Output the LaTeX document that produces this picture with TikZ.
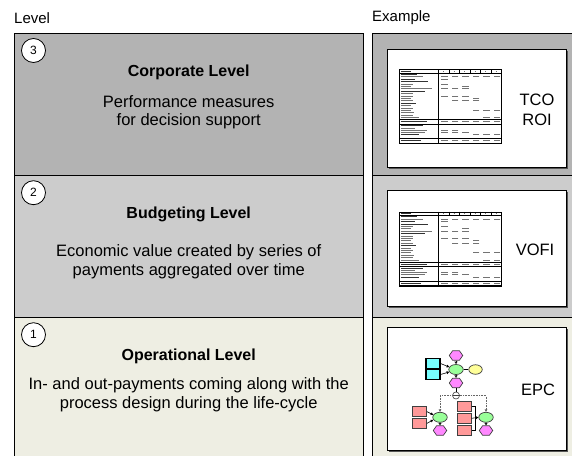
\documentclass[tikz,border=0pt]{standalone}
\usepackage{fontspec}
\setmainfont{Liberation Sans}
\usetikzlibrary{shapes.geometric,shapes.symbols,arrows.meta}
\definecolor{bandA}{HTML}{B3B3B3}
\definecolor{bandB}{HTML}{CCCCCC}
\definecolor{bandC}{HTML}{EEEEE3}
\definecolor{evcol}{HTML}{FF88FF}
\definecolor{fncol}{HTML}{99FF99}
\definecolor{yelcol}{HTML}{FFFF99}
\definecolor{cyacol}{HTML}{77FFFF}
\definecolor{redcol}{HTML}{FF9999}
\definecolor{shadowcol}{HTML}{555555}
\begin{document}
\begin{tikzpicture}[x=1pt,y=-1pt,
  bandline/.style={draw=black,line width=0.9pt},
  hdr/.style={font=\fontsize{15}{18}\selectfont,inner sep=0,anchor=west},
  titletext/.style={font=\bfseries\fontsize{16}{19}\selectfont,inner sep=0},
  desc/.style={font=\fontsize{16.5}{18.5}\selectfont,align=center,inner sep=0},
  extext/.style={font=\fontsize{16.5}{20}\selectfont,align=center,inner sep=0},
  numcirc/.style={circle,draw=black,line width=0.8pt,fill=white,minimum size=24pt,inner sep=0,font=\fontsize{12}{12}\selectfont},
  exbox/.style={draw=black,line width=0.8pt,fill=white},
  tt/.style={line width=0.9pt,color=black!55},
  ttb/.style={line width=1.1pt,color=black!80},
  ev/.style={signal,signal to=east and west,signal pointer angle=110,draw=black!75,fill=evcol,minimum width=13.5pt,minimum height=9.5pt,inner sep=0,line width=0.7pt},
  fn/.style={ellipse,draw=black!75,fill=fncol,minimum width=14.5pt,minimum height=10pt,inner sep=0,line width=0.7pt},
  yel/.style={ellipse,draw=black!75,fill=yelcol,minimum width=13.5pt,minimum height=9.5pt,inner sep=0,line width=0.7pt},
  rbox/.style={rectangle,draw=black!75,fill=redcol,minimum width=14pt,minimum height=10pt,inner sep=0,line width=0.7pt},
  cbox/.style={rectangle,draw=black,fill=cyacol,minimum width=14pt,minimum height=10.5pt,inner sep=0,line width=1.1pt},
  xorc/.style={circle,draw=black!75,fill=white,minimum size=7pt,inner sep=0,line width=0.6pt},
  solidarr/.style={line width=0.6pt,-{Triangle[length=2.6pt,width=2.8pt]}},
  openarr/.style={line width=0.6pt,-{Triangle[open,length=2.6pt,width=3.2pt,fill=white]}},
  dotarr/.style={line width=0.6pt,densely dotted,color=black!60,-{Triangle[length=2.5pt,width=2.6pt]}},
  vofi/.pic={
    \fill[white] (0,0) rectangle (102,74);
    \draw[line width=0.3pt] (0,0) rectangle (102,74);
    \draw[line width=0.8pt] (0,3.6) -- (102,3.6);
    \draw[line width=0.8pt] (39,0) -- (39,74);
    \foreach \yy in {50.5,54.6,69.4,73.6} \draw[line width=0.8pt] (0,\yy) -- (102,\yy);
    \foreach \c in {1,...,5} \draw[line width=0.2pt] ({39+\c*10.5},0) -- ({39+\c*10.5},3.6);
    \draw[ttb] (1.5,1.8) -- ++(10,0);
    \foreach \c in {1,...,6} \draw[tt] ({39+\c*10.5-5.8},1.8) -- ++(1.4,0);
    \foreach \y/\l in {5.2/16,10.0/14,12.4/27,22.0/24,34.0/15,52.5/26,56.6/22,65.4/18,71.5/20}
      \draw[ttb] (1.5,\y) -- ++(\l,0);
    \foreach \y/\l in {7.6/22,14.8/12,17.2/10,19.6/31,24.4/12,26.8/12,29.2/10,31.6/12,36.4/10,38.8/12,41.2/10,43.6/13,46.0/12,48.4/18,58.8/14,61.0/26,63.2/24}
      \draw[tt] (1.5,\y) -- ++(\l,0);
    \foreach \y/\cols in {7.6/{1,2,3,4,5,6},10.0/{1},14.8/{1},17.2/{3},19.6/{1,2,3},26.8/{1,2,3},29.2/{4},31.6/{2,3,4},41.2/{4,5,6},48.4/{5,6},52.5/{1,2,3,4,5,6},61.0/{1,2},63.2/{1,2,3},65.4/{4,5,6},71.5/{1,2,3,4,5,6}}
      \foreach \c in \cols \draw[tt] ({39+\c*10.5-1},\y) -- ++(-6.5,0);
  }]
\path[use as bounding box] (0,0) rectangle (572,455);
\clip (0,0) rectangle (572,455);

% headers
\node[hdr] (hlevel) at (14,18) {Level};
\node[hdr] (hexample) at (372,18) {Example};

% left column bands
\draw[bandline,fill=bandA] (14,33.5) rectangle (363.5,175.7);
\draw[bandline,fill=bandB] (14,175.7) rectangle (363.5,317.7);
\draw[bandline,fill=bandC] (14,317.7) rectangle (363.5,470);
% right column bands
\draw[bandline,fill=bandA] (372.5,33.5) rectangle (590,175.7);
\draw[bandline,fill=bandB] (372.5,175.7) rectangle (590,317.7);
\draw[bandline,fill=bandC] (372.5,317.7) rectangle (590,470);

% level numbers
\node[numcirc] (c3) at (33.5,50.5) {3};
\node[numcirc] (c2) at (33.5,192.7) {2};
\node[numcirc] (c1) at (33.5,334.7) {1};

% level texts
\node[titletext] (t3) at (188.7,72.5) {Corporate Level};
\node[desc] (d3) at (188.7,112) {Performance measures\\for decision support};
\node[titletext] (t2) at (188.7,214.5) {Budgeting Level};
\node[desc] (d2) at (188.7,261.5) {Economic value created by series of\\payments aggregated over time};
\node[titletext] (t1) at (188.7,356) {Operational Level};
\node[desc] (d1) at (188.7,394.5) {In- and out-payments coming along with the\\process design during the life-cycle};

% example boxes with shadow
\fill[shadowcol] (389,51) rectangle (568,169);
\draw[exbox] (387,49) rectangle (566,167);
\fill[shadowcol] (389,192) rectangle (568,308);
\draw[exbox] (387,190) rectangle (566,306);
\fill[shadowcol] (389,329) rectangle (568,452);
\draw[exbox] (387,327) rectangle (566,450);

% tables
\pic at (399.3,69.3) {vofi};
\pic at (399.3,211.7) {vofi};

\node[extext] (tco) at (537,110) {TCO\\ROI};
\node[extext] (vofi) at (535,250) {VOFI};
\node[extext] (epc) at (538,390) {EPC};

% EPC diagram
\node[ev] (ev1) at (456,355.5) {};
\node[fn] (fn1) at (456,369.5) {};
\node[ev] (ev2) at (456,383) {};
\node[yel] (ye1) at (475.5,369.5) {};
\node[cbox] (cA) at (433,363.5) {};
\node[cbox] (cB) at (433,374.5) {};
\node[xorc] (xo) at (456,395.5) {};
\draw[line width=0.6pt,black!75] (xo.west) -- (xo.east);

\node[fn] (fn2) at (440,417.3) {};
\node[ev] (ev3) at (440,430.5) {};
\node[rbox] (r1) at (419.7,411.7) {};
\node[rbox] (r2) at (419.7,423.3) {};

\node[fn] (fn3) at (486,417.3) {};
\node[ev] (ev4) at (486,430.5) {};
\node[rbox] (r3) at (464.3,406.7) {};
\node[rbox] (r4) at (464.3,418.3) {};
\node[rbox] (r5) at (464.3,430) {};
\coordinate (rj) at (475.3,418.3);

\draw[openarr] (ev1) -- (fn1);
\draw[openarr] (fn1) -- (ev2);
\draw[line width=0.6pt] (fn1) -- (ye1);
\draw[solidarr] (cA.east) -- (fn1.160);
\draw[solidarr] (cB.east) -- (fn1.200);
\draw[line width=0.6pt] (ev2) -- (xo);
\draw[dotarr] (xo.west) -| (fn2.north);
\draw[dotarr] (xo.east) -| (fn3.north);

\draw[solidarr] (r1.east) -- (fn2.160);
\draw[solidarr] (r2.east) -- (fn2.200);
\draw[openarr] (fn2) -- (ev3);

\draw[line width=0.6pt] (r3.east) -| (rj);
\draw[line width=0.6pt] (r5.east) -| (rj);
\draw[solidarr] (r4.east) -- (fn3.west);
\draw[openarr] (fn3) -- (ev4);
\end{tikzpicture}
\end{document}
